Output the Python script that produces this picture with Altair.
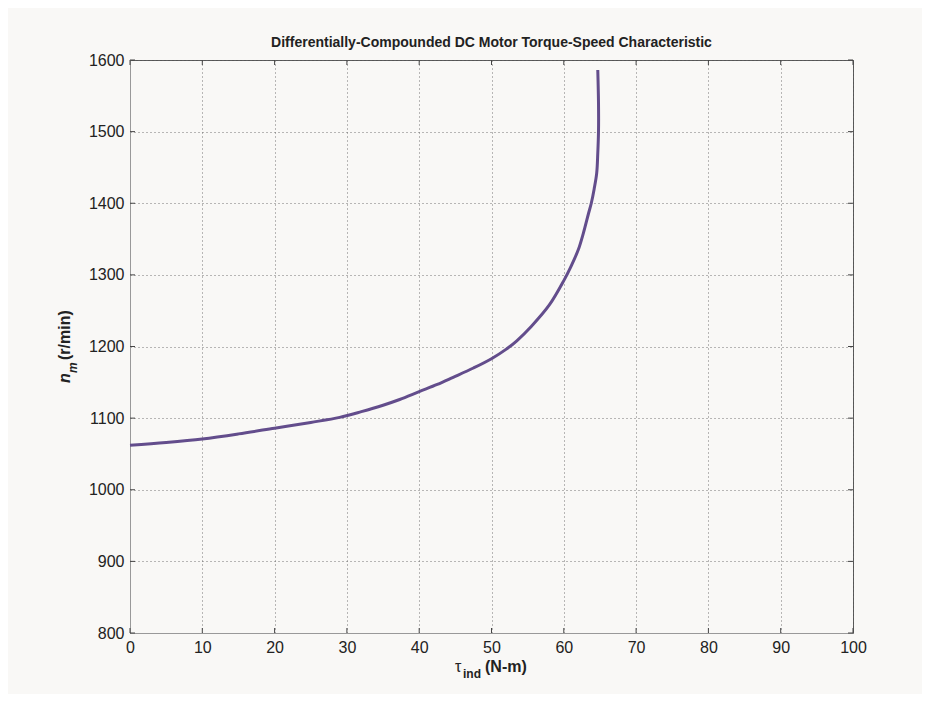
import altair as alt
import pandas as pd

# Curve values (torque N-m, speed r/min)
torque = [0, 5, 10, 15, 20, 25, 29, 32, 35, 37.3, 40, 42.5, 44.7, 47.5, 50, 52,
          53.5, 55.5, 58, 60, 61, 62, 62.7, 63.4, 63.8, 64.2, 64.55, 64.7, 64.8, 64.8, 64.7]
speed = [1062, 1066, 1071, 1078, 1086, 1094, 1101, 1109, 1118, 1126, 1137, 1147, 1157, 1170, 1183, 1196,
         1208, 1228, 1258, 1292, 1312, 1335, 1358, 1385, 1400, 1420, 1442, 1470, 1500, 1540, 1586]

x_ticks = [0, 10, 20, 30, 40, 50, 60, 70, 80, 90, 100]
y_ticks = [800, 900, 1000, 1100, 1200, 1300, 1400, 1500, 1600]

title_text = "Differentially-Compounded DC Motor Torque-Speed Characteristic"

W, H = 723, 573
FONT = "Liberation Sans, Arial, Helvetica, sans-serif"
BG = "#f9f8f6"

curve = pd.DataFrame({"i": range(len(torque)), "t": torque, "n": speed})
xt = pd.DataFrame({"v": x_ticks})
yt = pd.DataFrame({"v": y_ticks})

xs = alt.Scale(domain=[0, 100], nice=False, zero=False)
ys = alt.Scale(domain=[800, 1600], nice=False, zero=False)

common = dict(title=None, grid=True, gridDash=[1, 3], gridColor="#666", gridOpacity=0.9,
              ticks=False, tickSize=0, labelPadding=6, labelFontSize=16, labelFont=FONT,
              labelColor="#222", domainColor="#999", labelFlush=False, format="d")
x_axis = alt.Axis(values=x_ticks, **common)
y_axis = alt.Axis(values=y_ticks, **common)

line = alt.Chart(curve).mark_line(color="#634d8c", strokeWidth=3, interpolate="catmull-rom").encode(
    x=alt.X("t:Q", scale=xs, axis=x_axis),
    y=alt.Y("n:Q", scale=ys, axis=y_axis),
    order="i:Q",
)

tick_col = "#444"
bottom_ticks = alt.Chart(xt).mark_rule(color=tick_col).encode(
    x=alt.X("v:Q", scale=xs), y=alt.value(H), y2=alt.value(H - 5))
top_ticks = alt.Chart(xt).mark_rule(color=tick_col).encode(
    x=alt.X("v:Q", scale=xs), y=alt.value(0), y2=alt.value(5))
left_ticks = alt.Chart(yt).mark_rule(color=tick_col).encode(
    y=alt.Y("v:Q", scale=ys), x=alt.value(0), x2=alt.value(5))
right_ticks = alt.Chart(yt).mark_rule(color=tick_col).encode(
    y=alt.Y("v:Q", scale=ys), x=alt.value(W), x2=alt.value(W - 5))

one = pd.DataFrame({"a": [0]})

def label(text, x, y, size, angle=0, style="normal", weight="bold", align="left"):
    return alt.Chart(one).mark_text(
        text=text, align=align, baseline="alphabetic", fontSize=size, font=FONT,
        fontWeight=weight, fontStyle=style, angle=angle, color="#222"
    ).encode(x=alt.value(x), y=alt.value(y))

title = label(title_text, W / 2, -13, 14, align="center")
# x-axis title: tau_ind (N-m)
xt1 = label("τ", 325, 612, 16, weight="normal")
xt2 = label("ind", 333, 618, 12)
xt3 = label("(N-m)", 355, 612, 16)
# y-axis title: n_m (r/min), rotated
yt1 = label("n", -60, 323, 16, angle=270, style="italic")
yt2 = label("m", -53, 313, 12, angle=270, style="italic")
yt3 = label("(r/min)", -60, 300, 16, angle=270)

chart = alt.layer(
    line, bottom_ticks, top_ticks, left_ticks, right_ticks,
    title, xt1, xt2, xt3, yt1, yt2, yt3
).properties(
    width=W, height=H,
    background=BG,
    padding={"left": 122, "top": 52, "right": 69, "bottom": 61},
    autosize=alt.AutoSizeParams(type="none"),
).configure_view(stroke="#555", strokeWidth=1, fill=BG)

chart.save("out.html", embed_options={"renderer": "svg", "actions": False})
